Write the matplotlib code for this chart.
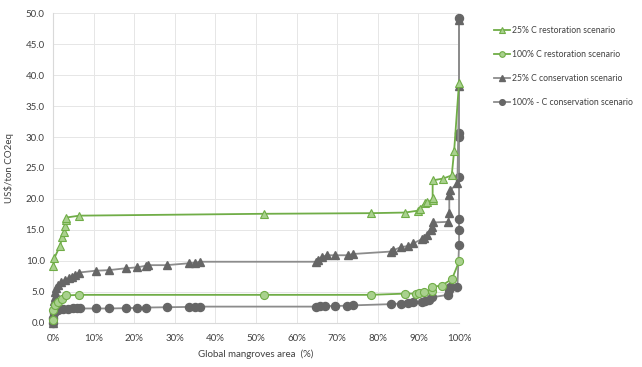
import matplotlib
matplotlib.use("Agg")
import matplotlib.pyplot as plt
from matplotlib.ticker import FuncFormatter, MultipleLocator

plt.rcParams['font.family'] = ['Lato', 'DejaVu Sans']

# 25% C restoration scenario
rest25_x = [0.1, 0.3, 1.7, 2.3, 2.7, 3.0, 3.2, 3.3, 6.5, 52.0, 78.2, 86.7, 89.8, 90.3, 91.5,
            92.1, 93.5, 93.5, 93.5, 96.1, 98.2, 98.8, 100.0]
rest25_y = [9.1, 10.4, 12.4, 13.9, 14.6, 15.6, 16.6, 17.0, 17.3, 17.6, 17.7, 17.8, 18.1, 18.4, 19.3,
            19.5, 19.8, 20.1, 23.0, 23.3, 23.8, 27.8, 38.8]

# 100% C restoration scenario
rest100_x = [0.0, 0.1, 0.5, 1.3, 2.1, 3.1, 6.4, 52.0, 78.2, 86.7, 89.5, 90.2, 91.3, 93.3,
             93.3, 95.8, 98.3, 100.0]
rest100_y = [0.4, 2.0, 2.8, 3.4, 3.8, 4.4, 4.5, 4.5, 4.5, 4.7, 4.7, 4.8, 5.0, 5.2,
             5.8, 6.0, 7.1, 9.9]

# 25% C conservation scenario
cons25_x = [0.0, 0.1, 0.2, 0.3, 0.4, 0.6, 0.8, 1.2, 2.0, 2.9, 4.0, 4.6, 5.4, 6.3, 10.5, 13.8,
            18.0, 20.8, 22.8, 23.3, 28.0, 33.4, 35.0, 36.2, 64.8, 65.3, 66.2, 67.4, 69.5, 72.7,
            73.8, 83.3, 83.8, 85.6, 87.5, 88.7, 90.8, 91.4, 92.0, 93.0, 93.4, 93.7, 97.4, 97.6,
            97.6, 97.8, 99.6, 100.0, 100.0]
cons25_y = [0.0, 1.2, 2.5, 3.5, 4.2, 5.0, 5.6, 6.1, 6.6, 6.9, 7.2, 7.4, 7.7, 8.1, 8.4, 8.5,
            8.8, 8.95, 9.2, 9.3, 9.3, 9.6, 9.7, 9.85, 9.85, 10.2, 10.6, 10.9, 10.9, 10.9,
            11.1, 11.5, 11.7, 12.2, 12.4, 12.8, 13.5, 13.7, 14.2, 15.0, 15.5, 16.2, 16.3, 17.8,
            20.6, 21.4, 22.5, 38.2, 48.9]

# 100% - C conservation scenario
cons100_x = [0.0, 0.1, 0.3, 0.6, 1.2, 2.5, 3.8, 5.0, 5.8, 6.6, 10.5, 13.8, 18.0, 20.8, 22.8,
             28.0, 33.4, 35.0, 36.2, 64.8, 65.8, 67.0, 69.5, 72.3, 73.8, 83.3, 85.6, 87.5,
             88.7, 90.8, 91.6, 92.6, 93.3, 97.2, 97.6, 97.8, 99.6, 100.0, 100.0, 100.0, 100.0,
             100.0, 100.0, 100.0]
cons100_y = [0.0, 0.7, 1.5, 1.9, 2.05, 2.15, 2.2, 2.3, 2.3, 2.3, 2.3, 2.3, 2.35, 2.4, 2.45,
             2.5, 2.55, 2.6, 2.6, 2.6, 2.65, 2.7, 2.7, 2.75, 2.8, 3.0, 3.1, 3.2,
             3.3, 3.4, 3.5, 3.7, 4.1, 4.5, 5.3, 5.8, 5.8, 12.5, 15.0, 16.7, 23.5,
             30.0, 30.6, 49.2]

labels = ["25% C restoration scenario", "100% C restoration scenario",
          "25% C conservation scenario", "100% - C conservation scenario"]

green_line = "#70AD47"
green_fill = "#A9D18E"
gray_line = "#8C8C8C"
gray_fill = "#666666"

fig = plt.figure(figsize=(6.42, 3.67), dpi=100)
ax = fig.add_axes([0.0826, 0.1207, 0.6324, 0.8431])

ax.plot(cons100_x, cons100_y, color=gray_line, lw=1.3, marker='o', ms=5.8,
        mfc=gray_fill, mec=gray_fill, clip_on=False, label=labels[3], zorder=3)
ax.plot(cons25_x, cons25_y, color=gray_line, lw=1.3, marker='^', ms=5.8,
        mfc=gray_fill, mec=gray_fill, clip_on=False, label=labels[2], zorder=3)
ax.plot(rest100_x, rest100_y, color=green_line, lw=1.3, marker='o', ms=5.8,
        mfc=green_fill, mec=green_line, mew=0.8, clip_on=False, label=labels[1], zorder=4)
ax.plot(rest25_x, rest25_y, color=green_line, lw=1.3, marker='^', ms=5.8,
        mfc=green_fill, mec=green_line, mew=0.8, clip_on=False, label=labels[0], zorder=4)

ax.set_xlim(0, 100)
ax.set_ylim(0, 50)
ax.xaxis.set_major_locator(MultipleLocator(10))
ax.yaxis.set_major_locator(MultipleLocator(5))
ax.xaxis.set_major_formatter(FuncFormatter(lambda v, p: f"{int(round(v))}%"))
ax.yaxis.set_major_formatter(FuncFormatter(lambda v, p: f"{v:.1f}"))
ax.grid(True, color="#E6E6E6", lw=0.7, zorder=0)
ax.set_axisbelow(True)
for s in ["top", "right"]:
    ax.spines[s].set_visible(False)
for s in ["left", "bottom"]:
    ax.spines[s].set_color("#D9D9D9")
    ax.spines[s].set_linewidth(0.8)
ax.tick_params(length=0, labelsize=7, colors="#404040")
ax.tick_params(axis='x', pad=8)
ax.tick_params(axis='y', pad=6)

ax.set_xlabel("Global mangroves area  (%)", fontsize=7, color="#404040", labelpad=5)
ax.set_ylabel("US$/ton CO2eq", fontsize=7, color="#404040", labelpad=8)

handles, labs = ax.get_legend_handles_labels()
order = [3, 2, 1, 0]
leg = fig.legend([handles[i] for i in order], [labs[i] for i in order],
                 loc="upper left", bbox_to_anchor=(0.758, 0.95), frameon=False,
                 fontsize=6.2, handlelength=1.8, labelspacing=1.75, markerscale=0.7,
                 handletextpad=0.3)
for t in leg.get_texts():
    t.set_color("#404040")

fig.savefig("out.png", dpi=100)
